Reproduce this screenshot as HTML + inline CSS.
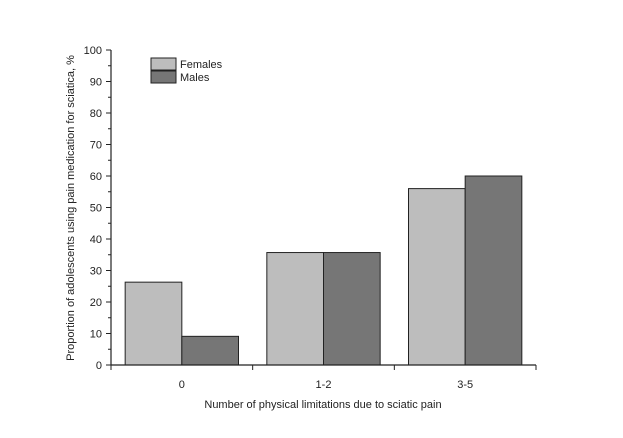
<!DOCTYPE html>
<html><head><meta charset="utf-8"><style>body{margin:0;background:#fff}svg{display:block;font-family:"Liberation Sans",Arial,sans-serif}</style></head>
<body>
<svg id="c" width="623" height="438"></svg>
<script>
const categories=["0","1-2","3-5"];
const females=[26.3,35.7,56];
const males=[9.1,35.7,60];
const yTicks=[0,10,20,30,40,50,60,70,80,90,100];
const svg=document.getElementById('c');
const NS='http://www.w3.org/2000/svg';
const x0=111,x1=536,y0=365,y1=50;
const step=(x1-x0)/categories.length;
function ys(v){return y0-(v/100)*(y0-y1);}
function cx(i){return x0+step*(i+0.5);}
function mk(t,a,p){const e=document.createElementNS(NS,t);for(const k in a)e.setAttribute(k,a[k]);(p||svg).appendChild(e);return e;}
const bw=step*0.4;
categories.forEach((c,i)=>{
 const f=mk('rect',{x:cx(i)-bw,y:ys(females[i]),width:bw,height:y0-ys(females[i]),fill:'#bdbdbd',stroke:'#222','stroke-width':1});
 
 
 const m=mk('rect',{x:cx(i),y:ys(males[i]),width:bw,height:y0-ys(males[i]),fill:'#767676',stroke:'#222','stroke-width':1});
 
 
 const t=mk('text',{x:cx(i),y:y0+23,'text-anchor':'middle','font-size':11,fill:'#222'});
 t.textContent=c;
 
 
});
for(let i=0;i<=categories.length;i++){mk('line',{x1:x0+step*i,x2:x0+step*i,y1:y0,y2:y0+5,stroke:'#222'});}
const ax=mk('path',{d:`M${x0},${y1}V${y0}H${x1}`,fill:'none',stroke:'#222','stroke-width':1.2});


yTicks.forEach(v=>{
 mk('line',{x1:x0-5,x2:x0,y1:ys(v),y2:ys(v),stroke:'#222'});
 if(v<100)mk('line',{x1:x0-3,x2:x0,y1:ys(v+5),y2:ys(v+5),stroke:'#222'});
 const t=mk('text',{x:x0-9,y:ys(v)+4,'text-anchor':'end','font-size':11,fill:'#222'});
 t.textContent=v;
 
 
});
</script>
<svg style="position:absolute;left:0;top:0" width="623" height="438">
<text x="323" y="408" text-anchor="middle" font-size="11" fill="#222">Number of physical limitations due to sciatic pain</text>
<text transform="translate(74,208) rotate(-90)" text-anchor="middle" font-size="11" fill="#222">Proportion of adolescents using pain medication for sciatica, %</text>
<g>
<rect x="151" y="58" width="25" height="12" fill="#bdbdbd" stroke="#222"/>
<rect x="151" y="71" width="25" height="12" fill="#767676" stroke="#222"/>
<text x="180" y="68" font-size="11" fill="#222">Females</text>
<text x="180" y="81" font-size="11" fill="#222">Males</text>
</g>
</svg>
</body></html>
